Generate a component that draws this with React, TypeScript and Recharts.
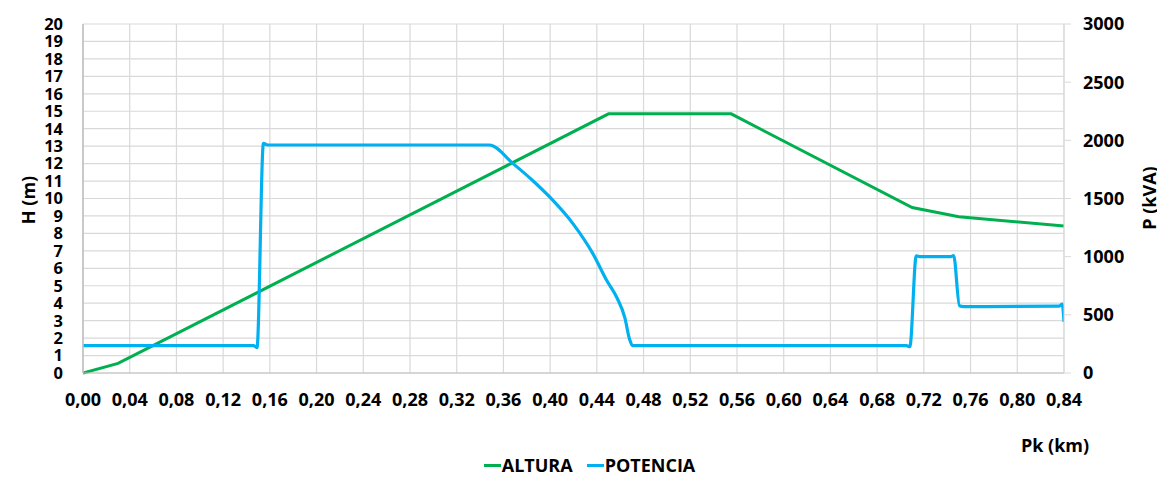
import { LineChart, Line, XAxis, YAxis, CartesianGrid } from 'recharts';

// Pk (km) ticks along the bottom axis
const PK_TICKS = [
  0, 0.04, 0.08, 0.12, 0.16, 0.2, 0.24, 0.28, 0.32, 0.36, 0.4, 0.44,
  0.48, 0.52, 0.56, 0.6, 0.64, 0.68, 0.72, 0.76, 0.8, 0.84,
];
const H_TICKS = [0, 1, 2, 3, 4, 5, 6, 7, 8, 9, 10, 11, 12, 13, 14, 15, 16, 17, 18, 19, 20];
const P_TICKS = [0, 500, 1000, 1500, 2000, 2500, 3000];

// ALTURA: height profile (m) along the line
const ALTURA_PK = [0, 0.03, 0.45, 0.555, 0.71, 0.75, 0.84];
const ALTURA_H = [0, 0.55, 14.85, 14.85, 9.48, 8.95, 8.42];

// POTENCIA: power demand (kVA) along the line
const POTENCIA_PK = [
  0, 0.146, 0.149, 0.1545, 0.158, 0.348, 0.368, 0.385, 0.4, 0.4195, 0.4366,
  0.4486, 0.4572, 0.464, 0.468, 0.4705, 0.705, 0.708, 0.7135, 0.717, 0.743,
  0.7455, 0.7505, 0.754, 0.836, 0.8385, 0.84,
];
const POTENCIA_KVA = [
  235, 235, 218, 1975, 1960, 1960, 1802, 1655, 1509, 1284, 1026,
  793, 647, 474, 290, 235, 235, 226, 1008, 1000, 1000,
  1010, 578, 570, 575, 592, 440,
];

const GREEN = '#00b050';
const BLUE = '#00b0f0';
const GRID = '#d9d9d9';
const FONT = '"Open Sans", sans-serif';

const alturaData = ALTURA_PK.map((pk, i) => ({ pk, h: ALTURA_H[i] }));
const potenciaData = POTENCIA_PK.map((pk, i) => ({ pk, p: POTENCIA_KVA[i] }));

const tickStyle = { fill: '#000', fontSize: 18, fontWeight: 700, fontFamily: FONT };
// the H axis has one label per metre, so its labels run a touch smaller
const hTickStyle = { ...tickStyle, fontSize: 16.5 };

const fmtPk = (v: number) => v.toFixed(2).replace('.', ',');

export default function App() {
  return (
    <div
      style={{
        position: 'relative',
        width: 1165,
        height: 481,
        margin: -8,
        background: '#fff',
        overflow: 'hidden',
        fontFamily: FONT,
      }}
    >
      <div
        style={{
          position: 'absolute',
          left: 4,
          top: 7,
          width: 1200,
          height: 520,
          borderLeft: '1.5px solid #8f8f8f',
          borderTop: '1.5px solid #8f8f8f',
        }}
      />
      <LineChart
        width={1165}
        height={481}
        margin={{ top: 24, right: 0, left: 0, bottom: 68 }}
        style={{ position: 'absolute', left: 0, top: 0 }}
      >
        <CartesianGrid stroke={GRID} strokeWidth={1.2} yAxisId="h" />
        <XAxis
          dataKey="pk"
          type="number"
          domain={[0, 0.84]}
          ticks={PK_TICKS}
          tickFormatter={fmtPk}
          allowDataOverflow
          interval={0}
          height={40}
          tick={tickStyle}
          tickLine={false}
          tickSize={0}
          tickMargin={20}
          axisLine={{ stroke: '#bfbfbf', strokeWidth: 1.2 }}
        />
        <YAxis
          yAxisId="h"
          domain={[0, 20]}
          ticks={H_TICKS}
          interval={0}
          width={83}
          tick={hTickStyle}
          tickLine={false}
          tickSize={0}
          tickMargin={20}
          axisLine={{ stroke: '#bfbfbf', strokeWidth: 1.5 }}
        />
        <YAxis
          yAxisId="p"
          orientation="right"
          domain={[0, 3000]}
          ticks={P_TICKS}
          interval={0}
          width={101}
          tick={tickStyle}
          tickSize={7}
          tickMargin={12}
          tickLine={{ stroke: GRID }}
          axisLine={{ stroke: GRID }}
        />
        <Line
          yAxisId="h"
          data={alturaData}
          dataKey="h"
          type="linear"
          stroke={GREEN}
          strokeWidth={3}
          dot={false}
          activeDot={false}
          isAnimationActive={false}
        />
        <Line
          yAxisId="p"
          data={potenciaData}
          dataKey="p"
          type="monotone"
          stroke={BLUE}
          strokeWidth={3.2}
          dot={false}
          activeDot={false}
          isAnimationActive={false}
        />
      </LineChart>

      {/* axis titles */}
      <div
        style={{
          position: 'absolute',
          left: 28,
          top: 200,
          transform: 'translate(-50%, -50%) rotate(-90deg)',
          whiteSpace: 'nowrap',
          fontSize: 18,
          fontWeight: 700,
        }}
      >
        H (m)
      </div>
      <div
        style={{
          position: 'absolute',
          left: 1149,
          top: 198,
          transform: 'translate(-50%, -50%) rotate(-90deg)',
          whiteSpace: 'nowrap',
          fontSize: 18,
          fontWeight: 700,
        }}
      >
        P (kVA)
      </div>
      <div
        style={{
          position: 'absolute',
          left: 1055,
          top: 445,
          transform: 'translate(-50%, -50%)',
          whiteSpace: 'nowrap',
          fontSize: 18,
          fontWeight: 700,
        }}
      >
        Pk (km)
      </div>

      {/* legend */}
      <div
        style={{
          position: 'absolute',
          left: 0,
          width: 1165,
          top: 465,
          transform: 'translateY(-50%)',
          display: 'flex',
          justifyContent: 'center',
          gap: 14,
          paddingLeft: 14,
          boxSizing: 'border-box',
          fontSize: 18,
          fontWeight: 700,
        }}
      >
        {[
          { name: 'ALTURA', color: GREEN },
          { name: 'POTENCIA', color: BLUE },
        ].map((item) => (
          <div key={item.name} style={{ display: 'flex', alignItems: 'center' }}>
            <div style={{ width: 17, height: 3, background: item.color, marginRight: 1 }} />
            {item.name}
          </div>
        ))}
      </div>
    </div>
  );
}
